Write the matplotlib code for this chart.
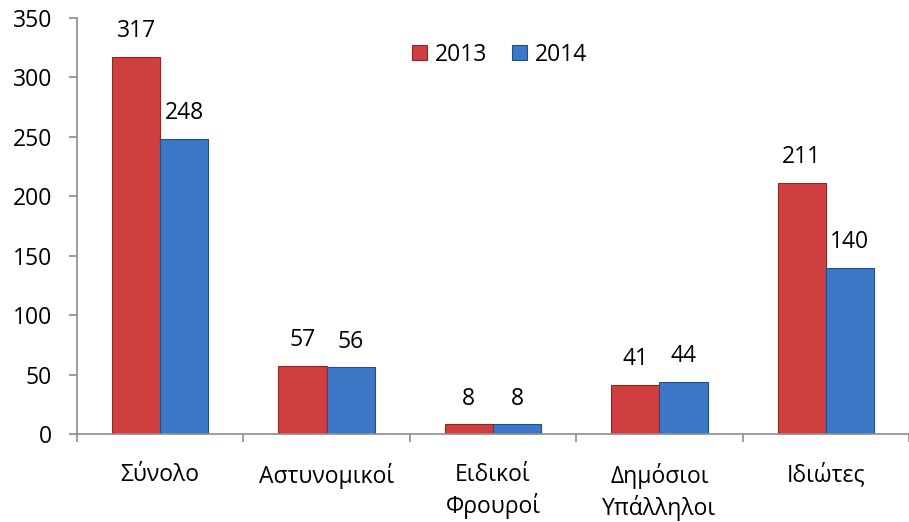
import matplotlib.pyplot as plt
import numpy as np

categories = ['Σύνολο', 'Αστυνομικοί', 'Ειδικοί\nΦρουροί', 'Δημόσιοι\nΥπάλληλοι', 'Ιδιώτες']
values_2013 = [317, 57, 8, 41, 211]
values_2014 = [248, 56, 8, 44, 140]

plt.rcParams['font.family'] = ['Open Sans', 'DejaVu Sans']
fs = 16.5

fig = plt.figure(figsize=(9.09, 5.22), dpi=100)
ax = fig.add_axes([0.0847, 0.1686, 0.9153, 0.7969])

x = np.arange(len(categories))
w = 0.29
b1 = ax.bar(x - w / 2, values_2013, w, color='#CF3F3F', edgecolor='#8E2626',
            linewidth=0.8, label='2013')
b2 = ax.bar(x + w / 2, values_2014, w, color='#3D78C6', edgecolor='#234E86',
            linewidth=0.8, label='2014')
ax.bar_label(b1, padding=10, fontsize=fs)
ax.bar_label(b2, padding=10, fontsize=fs)

ax.set_xlim(-0.5, len(categories) - 0.5)
ax.set_ylim(0, 350)
ax.set_yticks(range(0, 351, 50))
ax.set_xticks(x)
ax.set_xticklabels(categories, fontsize=fs, linespacing=1.3)
ax.set_xticks(np.arange(-0.5, len(categories)), minor=True)
ax.tick_params(axis='x', which='major', length=0, pad=21)
ax.tick_params(axis='x', which='minor', length=6, color='#8C8C8C', width=1.2)
ax.tick_params(axis='y', labelsize=fs, length=6, color='#8C8C8C', width=1.2, pad=12)

for s in ['top', 'right']:
    ax.spines[s].set_visible(False)
for s in ['left', 'bottom']:
    ax.spines[s].set_color('#8C8C8C')
    ax.spines[s].set_linewidth(1.2)

ax.legend(loc='center', bbox_to_anchor=(0.508, 0.912), ncol=2, frameon=False,
          fontsize=fs, handlelength=0.65, handleheight=0.65, handletextpad=0.35,
          columnspacing=1.1)

fig.savefig('out.png', dpi=100)
